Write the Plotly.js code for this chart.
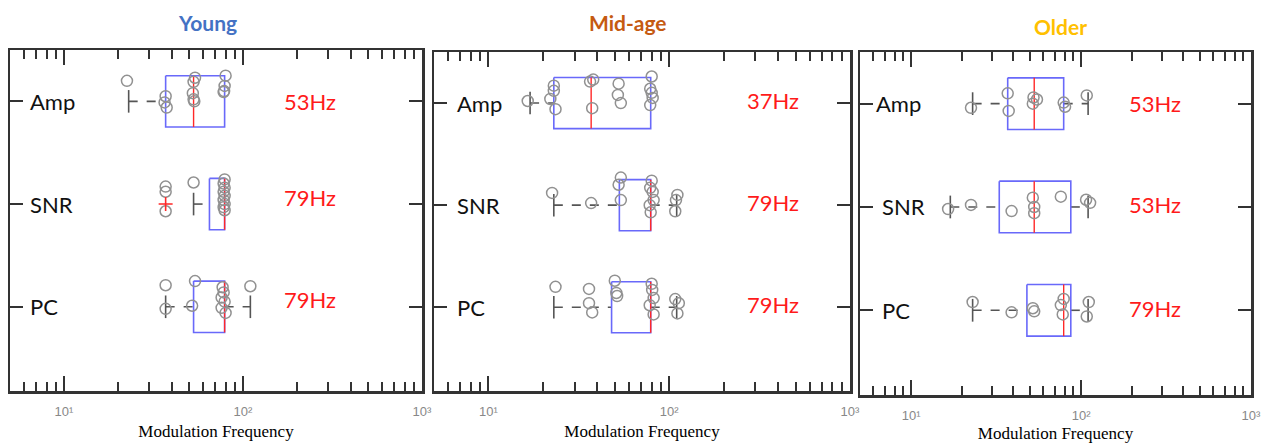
<!DOCTYPE html>
<html>
<head>
<meta charset="utf-8">
<script src="https://cdn.plot.ly/plotly-3.0.1.min.js"></script>
<style>
html,body{margin:0;padding:0;background:#fff;}
#chart{width:1272px;height:443px;}
</style>
</head>
<body>
<div id="chart"></div>
<script>
// ---------- DATA ----------
const groups = ["Young", "Mid-age", "Older"];
const measures = ["Amp", "SNR", "PC"];
const xTickVals = [10, 100, 1000];
const xTickText = ["10\u00B9", "10\u00B2", "10\u00B3"];
const xAxisTitle = "Modulation Frequency";

// box statistics (order: Amp, SNR, PC), Hz
const youngQ1 = [37, 65, 53];
const youngMedian = [53, 79, 79];
const youngQ3 = [79, 79, 79];
const youngLower = [23, 53, 37];
const youngUpper = [79, 79, 110];

const midQ1 = [23, 53, 48];
const midMedian = [37, 79, 79];
const midQ3 = [79, 79, 79];
const midLower = [17, 23, 23];
const midUpper = [79, 110, 110];

const olderQ1 = [37, 33, 48];
const olderMedian = [53, 53, 79];
const olderQ3 = [79, 87, 87];
const olderLower = [23, 17, 23];
const olderUpper = [110, 110, 110];

// outliers (red +), Hz
const youngOutliers = [[], [37], []];
const midOutliers = [[], [], []];
const olderOutliers = [[], [], []];

// individual subject points (Hz) and their vertical jitter (category units)
const youngAmpPts = [22.5, 37, 36.5, 37.5, 54, 53, 52.5, 53, 53.5, 80, 79, 78.5, 78];
const youngAmpJit = [-0.20, -0.05, 0.01, 0.06, -0.23, -0.19, -0.08, -0.02, 0.00, -0.25, -0.15, -0.10, -0.09];
const youngSnrPts = [37, 37, 37, 53, 79, 78, 79, 78, 79, 78, 79, 78, 79];
const youngSnrJit = [-0.17, -0.12, 0.07, -0.21, -0.24, -0.20, -0.16, -0.12, -0.08, -0.04, 0.00, 0.03, 0.06];
const youngPcPts = [37, 37, 54, 52, 77, 78, 76, 79, 76, 80, 110];
const youngPcJit = [-0.21, 0.02, -0.25, -0.01, -0.19, -0.14, -0.09, -0.05, 0.01, 0.06, -0.20];

const midAmpPts = [16.5, 23, 23, 22, 23.5, 36.5, 38, 37.5, 52.5, 52, 54, 80, 78.5, 80, 81, 78.5];
const midAmpJit = [-0.02, -0.17, -0.12, -0.04, 0.06, -0.21, -0.23, 0.05, -0.19, -0.08, 0.00, -0.26, -0.14, -0.10, -0.05, 0.02];
const midSnrPts = [22.5, 37, 54, 52.5, 54, 80, 78.5, 81, 82, 78, 79, 111, 109, 108];
const midSnrJit = [-0.12, -0.02, -0.27, -0.20, -0.05, -0.24, -0.17, -0.13, -0.05, 0.00, 0.07, -0.10, -0.05, 0.06];
const midPcPts = [23.5, 36, 36, 37.5, 50, 51, 51.5, 80, 80.5, 82, 78, 82, 108, 113, 111];
const midPcJit = [-0.20, -0.18, -0.04, 0.05, -0.26, -0.14, -0.11, -0.23, -0.17, -0.09, -0.02, 0.07, -0.08, -0.04, 0.06];

const olderAmpPts = [22.5, 37, 37.5, 52.5, 55, 52, 79, 80.5, 108];
const olderAmpJit = [0.04, -0.10, 0.07, -0.06, -0.04, 0.00, -0.01, 0.03, -0.08];
const olderSnrPts = [16.5, 22.5, 39, 52, 53, 53, 76, 107, 113];
const olderSnrJit = [0.02, -0.02, 0.04, -0.09, 0.00, 0.06, -0.10, -0.07, -0.04];
const olderPcPts = [23, 39, 52, 53, 79, 76, 78, 111, 108];
const olderPcJit = [-0.08, 0.02, -0.02, 0.01, -0.11, -0.05, 0.04, -0.08, 0.06];

// ---------- STYLE ----------
const titleColors = ["#4472C4", "#C55A11", "#FFC000"];
const boxColor = "rgb(105,105,250)";
const medColor = "rgb(255,40,40)";
const whiskColor = "#555";
const ptColor = "rgb(145,145,145)";
const frameColor = "#333";
const halfBox = 0.25;
const halfCap = 0.11;

const panels = [
  {q1: youngQ1, med: youngMedian, q3: youngQ3, lo: youngLower, hi: youngUpper, out: youngOutliers,
   pts: [youngAmpPts, youngSnrPts, youngPcPts], jit: [youngAmpJit, youngSnrJit, youngPcJit]},
  {q1: midQ1, med: midMedian, q3: midQ3, lo: midLower, hi: midUpper, out: midOutliers,
   pts: [midAmpPts, midSnrPts, midPcPts], jit: [midAmpJit, midSnrJit, midPcJit]},
  {q1: olderQ1, med: olderMedian, q3: olderQ3, lo: olderLower, hi: olderUpper, out: olderOutliers,
   pts: [olderAmpPts, olderSnrPts, olderPcPts], jit: [olderAmpJit, olderSnrJit, olderPcJit]}
];

const W = 1272, H = 443;
const xDomains = [[10 / W, 422 / W], [434 / W, 850 / W], [860 / W, 1251 / W]];
const yDomains = [[1 - 391 / H, 1 - 50 / H], [1 - 391 / H, 1 - 52 / H], [1 - 395 / H, 1 - 52 / H]];
const titlePos = [[207, 22], [628, 22], [1060, 27]];
const labelFrac = [0.728, 0.815, 0.754];
const labelShift = [[7, 0], [3, 3], [2, 0]];        // median label lift (px) per panel
const catShift = [[18, 18, 18], [21, 21, 21], [14, 20, 20]]; // category label offsets (px)

const traces = [];
const annotations = [];
const layout = {
  width: W, height: H,
  margin: {l: 0, r: 0, t: 0, b: 0},
  paper_bgcolor: "#fff", plot_bgcolor: "#fff",
  showlegend: false,
  font: {family: "Lato, 'Open Sans', sans-serif", color: "#000"}
};

const minorVals = [];
[1, 10, 100].forEach(d => { for (let k = 2; k <= 9; k++) minorVals.push(k * d); });

panels.forEach((p, pi) => {
  const s = pi === 0 ? "" : String(pi + 1);
  const xa = "x" + s, ya = "y" + s;

  const bx = [], by = [], mx = [], my = [], wx = [], wy = [], cx = [], cy = [];
  const px = [], py = [], ox = [], oy = [];
  measures.forEach((m, i) => {
    const yc = i + 1;
    bx.push(p.q1[i], p.q3[i], p.q3[i], p.q1[i], p.q1[i], null);
    by.push(yc - halfBox, yc - halfBox, yc + halfBox, yc + halfBox, yc - halfBox, null);
    mx.push(p.med[i], p.med[i], null);
    my.push(yc - halfBox, yc + halfBox, null);
    if (p.lo[i] < p.q1[i]) {
      wx.push(p.lo[i], p.q1[i], null); wy.push(yc, yc, null);
      cx.push(p.lo[i], p.lo[i], null); cy.push(yc - halfCap, yc + halfCap, null);
    }
    if (p.hi[i] > p.q3[i]) {
      wx.push(p.q3[i], p.hi[i], null); wy.push(yc, yc, null);
      cx.push(p.hi[i], p.hi[i], null); cy.push(yc - halfCap, yc + halfCap, null);
    }
    p.pts[i].forEach((v, k) => { px.push(v); py.push(yc + p.jit[i][k]); });
    p.out[i].forEach(v => { ox.push(v); oy.push(yc); });

    // median value label
    annotations.push({
      xref: xa + " domain", yref: ya, x: labelFrac[pi], y: yc,
      xanchor: "center", yanchor: "middle",
      yshift: i === 0 ? labelShift[pi][1] : labelShift[pi][0],
      text: p.med[i] + "Hz", showarrow: false,
      font: {family: "Lato, sans-serif", size: 22, color: "#FF1A1A"}
    });
    // category label (drawn inside the frame, like the reference)
    annotations.push({
      xref: xa + " domain", yref: ya, x: 0, y: yc,
      xanchor: "left", yanchor: "middle", xshift: catShift[pi][i],
      text: m, showarrow: false,
      font: {family: "Lato, sans-serif", size: 22, color: "#111"}
    });
  });

  traces.push({type: "scatter", mode: "lines", x: wx, y: wy, xaxis: xa, yaxis: ya,
    line: {color: whiskColor, width: 1.6, dash: "dash"}, hoverinfo: "skip"});
  traces.push({type: "scatter", mode: "lines", x: cx, y: cy, xaxis: xa, yaxis: ya,
    line: {color: whiskColor, width: 1.6}, hoverinfo: "skip"});
  traces.push({type: "scatter", mode: "lines", x: bx, y: by, xaxis: xa, yaxis: ya,
    line: {color: boxColor, width: 1.6}, hoverinfo: "skip"});
  traces.push({type: "scatter", mode: "lines", x: mx, y: my, xaxis: xa, yaxis: ya,
    line: {color: medColor, width: 1.4}, hoverinfo: "skip"});
  traces.push({type: "scatter", mode: "markers", x: px, y: py, xaxis: xa, yaxis: ya,
    marker: {symbol: "circle-open", size: 11, color: ptColor, line: {width: 1.5, color: ptColor}}});
  if (ox.length) traces.push({type: "scatter", mode: "markers", x: ox, y: oy, xaxis: xa, yaxis: ya,
    marker: {symbol: "cross-thin-open", size: 10, color: medColor, line: {width: 1.6, color: medColor}}});

  layout["xaxis" + s] = {
    type: "log", range: [Math.log10(5), 3], domain: xDomains[pi], anchor: ya,
    tickmode: "array", tickvals: xTickVals, ticktext: xTickText,
    ticks: "inside", ticklen: 15, tickwidth: 2, tickcolor: frameColor,
    minor: {tickmode: "array", tickvals: minorVals, ticks: "inside", ticklen: 9, tickwidth: 2, tickcolor: frameColor, showgrid: false},
    showline: true, linecolor: frameColor, linewidth: 2.5, mirror: "ticks",
    showgrid: false, zeroline: false,
    ticklabelstandoff: 7,
    tickfont: {family: "Arial, 'Liberation Sans', sans-serif", size: 13, color: "#888"},
    title: {text: xAxisTitle, standoff: 7, font: {family: "'Liberation Serif', 'Times New Roman', serif", size: 17, color: "#000"}}
  };
  layout["yaxis" + s] = {
    range: [3.82, 0.5], domain: yDomains[pi], anchor: xa,
    tickmode: "array", tickvals: [1, 2, 3], showticklabels: false,
    ticks: "inside", ticklen: 13, tickwidth: 2, tickcolor: frameColor,
    showline: true, linecolor: frameColor, linewidth: 2.5, mirror: "ticks",
    showgrid: false, zeroline: false
  };

  annotations.push({
    xref: "paper", yref: "paper", x: titlePos[pi][0] / W, y: 1 - titlePos[pi][1] / H,
    xanchor: "center", yanchor: "middle", text: "<b>" + groups[pi] + "</b>", showarrow: false,
    font: {family: "Lato, sans-serif", size: 21, color: titleColors[pi]}
  });
});

layout.annotations = annotations;
Plotly.newPlot("chart", traces, layout, {staticPlot: true, displayModeBar: false});
</script>
</body>
</html>
